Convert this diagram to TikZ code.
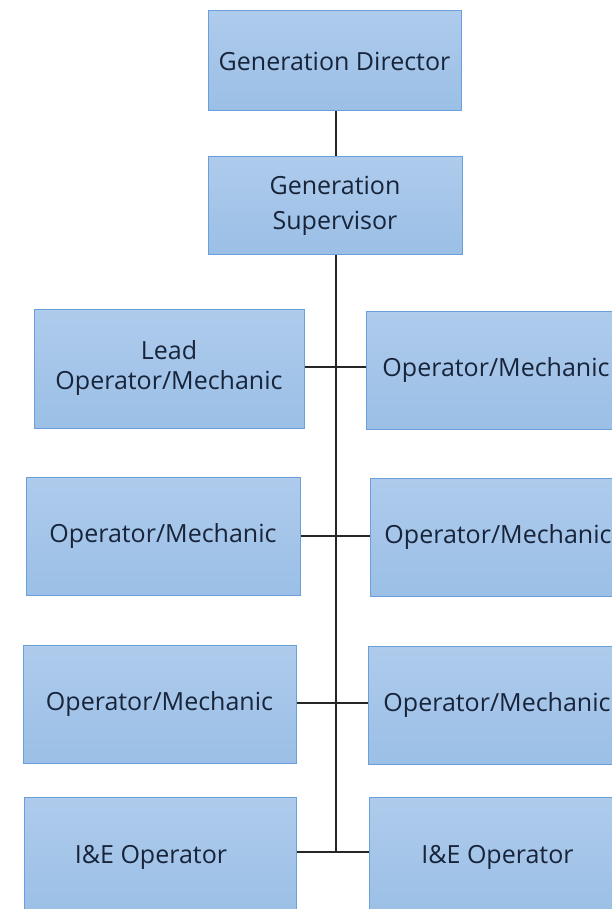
\documentclass[tikz,border=0pt]{standalone}
\usepackage{fontspec}
\setmainfont{Open Sans}
\definecolor{boxtop}{HTML}{AECBEC}
\definecolor{boxbot}{HTML}{9BBFE6}
\definecolor{boxedge}{HTML}{6A9FD9}
\definecolor{txt}{HTML}{17243A}
\begin{document}
\begin{tikzpicture}[x=1pt,y=-1pt,
  orgbox/.style={draw=boxedge, line width=1pt, top color=boxtop, bottom color=boxbot,
    rectangle, inner sep=0pt, align=center, text=txt, font=\fontsize{25}{31}\selectfont},
  link/.style={draw=black!85, line width=1.3pt}]
\useasboundingbox (0,0) rectangle (612,909);
\clip (0,0) rectangle (612,909);
\fill[white] (0,0) rectangle (612,909);
\node[orgbox, minimum width=253, minimum height=100] (GD) at (334.5,61) {Generation Director};
\node[orgbox, minimum width=254, minimum height=97, font=\fontsize{25}{35}\selectfont] (GS) at (335,205.5) {Generation\\Supervisor};
\node[orgbox, minimum width=270, minimum height=119, font=\fontsize{25}{30}\selectfont] (L1) at (169,368.5) {Lead\\Operator/Mechanic};
\node[orgbox, minimum width=260, minimum height=118] (R1) at (496,370) {Operator/Mechanic};
\node[orgbox, minimum width=274, minimum height=118] (L2) at (163,536) {Operator/Mechanic};
\node[orgbox, minimum width=256, minimum height=118] (R2) at (498,537) {Operator/Mechanic};
\node[orgbox, minimum width=273, minimum height=118] (L3) at (159.5,704) {Operator/Mechanic};
\node[orgbox, minimum width=258, minimum height=118] (R3) at (497,705) {Operator/Mechanic};
\node[orgbox, minimum width=272, minimum height=120] (L4) at (160,857) {I\&E Operator\hspace{18pt}};
\node[orgbox, minimum width=257, minimum height=120] (R4) at (497.5,857) {I\&E Operator};
\coordinate (j1) at (336,367);
\coordinate (j2) at (336,536);
\coordinate (j3) at (336,703);
\coordinate (j4) at (336,852);
\draw[link] (GD.south -| j1) -- (GS.north -| j1);
\draw[link] (GS.south -| j1) -- (j4);
\draw[link] (L1.east |- j1) -- (R1.west |- j1);
\draw[link] (L2.east |- j2) -- (R2.west |- j2);
\draw[link] (L3.east |- j3) -- (R3.west |- j3);
\draw[link] (L4.east |- j4) -- (R4.west |- j4);
\end{tikzpicture}
\end{document}
